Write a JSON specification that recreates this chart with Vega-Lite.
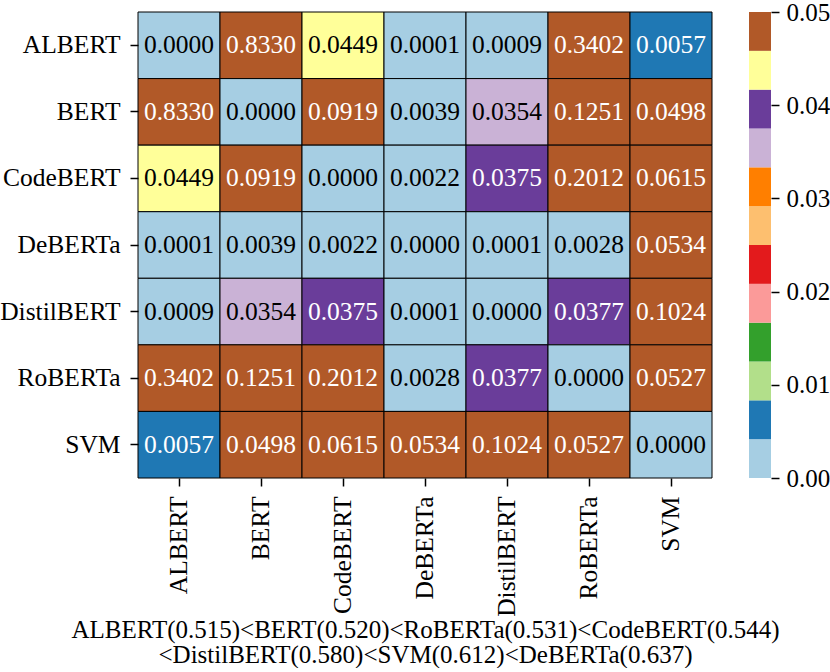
{
  "$schema": "https://vega.github.io/schema/vega-lite/v6.json",
  "padding": {"left": -1, "top": 0, "right": 0, "bottom": 0},
  "autosize": {"type": "pad"},
  "bounds": "flush",
  "spacing": 37,
  "config": {"font": "Liberation Serif", "view": {"stroke": null}},
  "datasets": {
    "cells": [
      {"row": "ALBERT", "col": "ALBERT", "value": 0.0000},
      {"row": "ALBERT", "col": "BERT", "value": 0.8330},
      {"row": "ALBERT", "col": "CodeBERT", "value": 0.0449},
      {"row": "ALBERT", "col": "DeBERTa", "value": 0.0001},
      {"row": "ALBERT", "col": "DistilBERT", "value": 0.0009},
      {"row": "ALBERT", "col": "RoBERTa", "value": 0.3402},
      {"row": "ALBERT", "col": "SVM", "value": 0.0057},
      {"row": "BERT", "col": "ALBERT", "value": 0.8330},
      {"row": "BERT", "col": "BERT", "value": 0.0000},
      {"row": "BERT", "col": "CodeBERT", "value": 0.0919},
      {"row": "BERT", "col": "DeBERTa", "value": 0.0039},
      {"row": "BERT", "col": "DistilBERT", "value": 0.0354},
      {"row": "BERT", "col": "RoBERTa", "value": 0.1251},
      {"row": "BERT", "col": "SVM", "value": 0.0498},
      {"row": "CodeBERT", "col": "ALBERT", "value": 0.0449},
      {"row": "CodeBERT", "col": "BERT", "value": 0.0919},
      {"row": "CodeBERT", "col": "CodeBERT", "value": 0.0000},
      {"row": "CodeBERT", "col": "DeBERTa", "value": 0.0022},
      {"row": "CodeBERT", "col": "DistilBERT", "value": 0.0375},
      {"row": "CodeBERT", "col": "RoBERTa", "value": 0.2012},
      {"row": "CodeBERT", "col": "SVM", "value": 0.0615},
      {"row": "DeBERTa", "col": "ALBERT", "value": 0.0001},
      {"row": "DeBERTa", "col": "BERT", "value": 0.0039},
      {"row": "DeBERTa", "col": "CodeBERT", "value": 0.0022},
      {"row": "DeBERTa", "col": "DeBERTa", "value": 0.0000},
      {"row": "DeBERTa", "col": "DistilBERT", "value": 0.0001},
      {"row": "DeBERTa", "col": "RoBERTa", "value": 0.0028},
      {"row": "DeBERTa", "col": "SVM", "value": 0.0534},
      {"row": "DistilBERT", "col": "ALBERT", "value": 0.0009},
      {"row": "DistilBERT", "col": "BERT", "value": 0.0354},
      {"row": "DistilBERT", "col": "CodeBERT", "value": 0.0375},
      {"row": "DistilBERT", "col": "DeBERTa", "value": 0.0001},
      {"row": "DistilBERT", "col": "DistilBERT", "value": 0.0000},
      {"row": "DistilBERT", "col": "RoBERTa", "value": 0.0377},
      {"row": "DistilBERT", "col": "SVM", "value": 0.1024},
      {"row": "RoBERTa", "col": "ALBERT", "value": 0.3402},
      {"row": "RoBERTa", "col": "BERT", "value": 0.1251},
      {"row": "RoBERTa", "col": "CodeBERT", "value": 0.2012},
      {"row": "RoBERTa", "col": "DeBERTa", "value": 0.0028},
      {"row": "RoBERTa", "col": "DistilBERT", "value": 0.0377},
      {"row": "RoBERTa", "col": "RoBERTa", "value": 0.0000},
      {"row": "RoBERTa", "col": "SVM", "value": 0.0527},
      {"row": "SVM", "col": "ALBERT", "value": 0.0057},
      {"row": "SVM", "col": "BERT", "value": 0.0498},
      {"row": "SVM", "col": "CodeBERT", "value": 0.0615},
      {"row": "SVM", "col": "DeBERTa", "value": 0.0534},
      {"row": "SVM", "col": "DistilBERT", "value": 0.1024},
      {"row": "SVM", "col": "RoBERTa", "value": 0.0527},
      {"row": "SVM", "col": "SVM", "value": 0.0000}
    ],
    "colorbar": [
      {"lo": 0, "hi": 0.0041667},
      {"lo": 0.0041667, "hi": 0.0083333},
      {"lo": 0.0083333, "hi": 0.0125},
      {"lo": 0.0125, "hi": 0.0166667},
      {"lo": 0.0166667, "hi": 0.0208333},
      {"lo": 0.0208333, "hi": 0.025},
      {"lo": 0.025, "hi": 0.0291667},
      {"lo": 0.0291667, "hi": 0.0333333},
      {"lo": 0.0333333, "hi": 0.0375},
      {"lo": 0.0375, "hi": 0.0416667},
      {"lo": 0.0416667, "hi": 0.0458333},
      {"lo": 0.0458333, "hi": 0.05}
    ]
  },
  "hconcat": [
    {
      "width": 574,
      "height": 466,
      "data": {"name": "cells"},
      "encoding": {
        "x": {
          "field": "col",
          "type": "nominal",
          "sort": ["ALBERT", "BERT", "CodeBERT", "DeBERTa", "DistilBERT", "RoBERTa", "SVM"],
          "axis": {
            "labelAngle": -90,
            "labelFontSize": 25.5,
            "labelColor": "black",
            "labelPadding": 10,
            "tickSize": 8,
            "tickColor": "black",
            "tickWidth": 1.5,
            "domain": false,
            "title": ["ALBERT(0.515)<BERT(0.520)<RoBERTa(0.531)<CodeBERT(0.544)", "<DistilBERT(0.580)<SVM(0.612)<DeBERTa(0.637)"],
            "titleFontSize": 25,
            "titleFontWeight": "normal",
            "titleColor": "black",
            "titlePadding": 1,
            "titleLineHeight": 25.5
          }
        },
        "y": {
          "field": "row",
          "type": "nominal",
          "sort": ["ALBERT", "BERT", "CodeBERT", "DeBERTa", "DistilBERT", "RoBERTa", "SVM"],
          "axis": {
            "title": null,
            "labelFontSize": 25.5,
            "labelColor": "black",
            "labelPadding": 10,
            "tickSize": 8,
            "tickColor": "black",
            "tickWidth": 1.5,
            "domain": false
          }
        }
      },
      "layer": [
        {
          "mark": {"type": "rect", "stroke": "black", "strokeWidth": 1},
          "encoding": {
            "color": {
              "field": "value",
              "type": "quantitative",
              "scale": {
                "type": "threshold",
                "domain": [0.0041667, 0.0083333, 0.0125, 0.0166667, 0.0208333, 0.025, 0.0291667, 0.0333333, 0.0375, 0.0416667, 0.0458333],
                "range": ["#a6cee3", "#1f78b4", "#b2df8a", "#33a02c", "#fb9a99", "#e31a1c", "#fdbf6f", "#ff7f00", "#cab2d6", "#6a3d9a", "#ffff99", "#b15928"]
              },
              "legend": null
            }
          }
        },
        {
          "mark": {"type": "text", "fontSize": 25.5},
          "encoding": {
            "text": {"field": "value", "type": "quantitative", "format": ".4f"},
            "color": {
              "condition": {
                "test": "(datum.value >= 0.0041667 && datum.value < 0.0083333) || (datum.value >= 0.0375 && datum.value < 0.0416667) || datum.value >= 0.0458333",
                "value": "white"
              },
              "value": "black"
            }
          }
        }
      ]
    },
    {
      "width": 22,
      "height": 466,
      "data": {"name": "colorbar"},
      "mark": {"type": "rect"},
      "encoding": {
        "y": {
          "field": "lo",
          "type": "quantitative",
          "scale": {"domain": [0, 0.05], "nice": false, "zero": true},
          "axis": {
            "orient": "right",
            "title": null,
            "values": [0, 0.01, 0.02, 0.03, 0.04, 0.05],
            "format": ".2f",
            "labelFontSize": 25,
            "labelColor": "black",
            "labelPadding": 7,
            "tickSize": 8,
            "tickColor": "black",
            "tickWidth": 1.5,
            "domain": false,
            "grid": false
          }
        },
        "y2": {"field": "hi"},
        "color": {
          "field": "lo",
          "type": "quantitative",
          "scale": {
            "type": "threshold",
            "domain": [0.0041667, 0.0083333, 0.0125, 0.0166667, 0.0208333, 0.025, 0.0291667, 0.0333333, 0.0375, 0.0416667, 0.0458333],
            "range": ["#a6cee3", "#1f78b4", "#b2df8a", "#33a02c", "#fb9a99", "#e31a1c", "#fdbf6f", "#ff7f00", "#cab2d6", "#6a3d9a", "#ffff99", "#b15928"]
          },
          "legend": null
        }
      }
    }
  ]
}
